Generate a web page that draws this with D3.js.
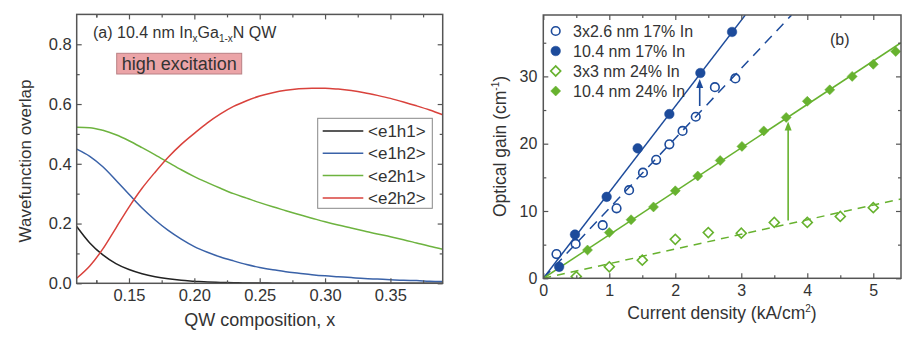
<!DOCTYPE html>
<html><head><meta charset="utf-8">
<script src="https://cdn.jsdelivr.net/npm/d3@7/dist/d3.min.js"></script>
<style>
html,body{margin:0;padding:0;background:#fff;}
svg text{font-family:"Liberation Sans",Arial,sans-serif;fill:#333;}
</style>
</head><body>
<svg id="c" width="918" height="344"></svg>
<script>
// ---------- Panel (a) data ----------
const compX = [0.11,0.12,0.13,0.14,0.15,0.16,0.17,0.18,0.19,0.20,0.21,0.22,0.23,0.24,0.25,0.26,0.27,0.28,0.29,0.30,0.31,0.32,0.33,0.34,0.35,0.36,0.37,0.38,0.39];
const e1h1 = [0.19,0.135,0.095,0.066,0.046,0.032,0.022,0.015,0.010,0.007,0.004,0.003,0.002,0.001,0.001,0.0005,0.0003,0.0002,0.0001,0,0,0,0,0,0,0,0,0,0];
const e1h2 = [0.449,0.425,0.39,0.345,0.298,0.252,0.212,0.177,0.148,0.123,0.104,0.088,0.075,0.063,0.053,0.045,0.039,0.034,0.029,0.025,0.022,0.019,0.016,0.014,0.012,0.010,0.009,0.007,0.006];
const e2h1 = [0.522,0.521,0.512,0.497,0.477,0.454,0.43,0.405,0.38,0.357,0.337,0.318,0.30,0.285,0.27,0.256,0.243,0.23,0.218,0.206,0.195,0.185,0.175,0.165,0.156,0.146,0.135,0.124,0.114];
const e2h2 = [0.017,0.058,0.115,0.185,0.255,0.318,0.372,0.422,0.465,0.502,0.537,0.567,0.592,0.611,0.627,0.638,0.646,0.651,0.653,0.653,0.65,0.645,0.638,0.629,0.619,0.607,0.594,0.58,0.564];
const overlapNames = ["<e1h1>","<e1h2>","<e2h1>","<e2h2>"];
const overlapColors = ["#222222","#3a62a8","#6db33f","#d9423c"];
const xTicksA = [0.15,0.20,0.25,0.30,0.35];
const yTicksA = [0.0,0.2,0.4,0.6,0.8];

// ---------- Panel (b) data ----------
const jOpenC = [0.20,0.49,0.90,1.11,1.30,1.51,1.71,1.91,2.11,2.31,2.60,2.91];
const gOpenC = [3.6,5.1,7.9,10.4,13.1,15.7,17.6,19.9,21.9,24.0,28.4,29.7];
const jFillC = [0.24,0.48,0.96,1.43,1.91,2.38,2.86];
const gFillC = [1.7,6.5,12.1,19.3,24.4,30.5,36.6];
const jOpenD = [0.5,1.0,1.5,2.0,2.5,3.0,3.5,4.0,4.5,5.0];
const gOpenD = [0.25,1.7,2.7,5.8,6.8,6.7,8.3,8.3,9.2,10.5];
const jFillD = [0.67,1.0,1.33,1.67,2.0,2.34,2.68,3.01,3.34,3.68,4.0,4.34,4.68,5.0,5.34];
const gFillD = [4.2,6.8,8.7,10.6,13.0,15.2,17.5,19.6,21.9,23.9,26.3,28.0,30.0,31.8,33.7];
// fit lines [start, end]
const fitFillCx = [0,3.06], fitFillCy = [0,39.1];
const fitOpenCx = [0,3.76], fitOpenCy = [0,39.1];
const fitFillDx = [0,5.42], fitFillDy = [0,35.0];
const fitOpenDx = [0,5.42], fitOpenDy = [0,11.8];
// arrows [x, yFrom, yTo]
const arrowBlue = [2.37,25.6,29.6];
const arrowGreen = [3.71,8.6,23.3];
const legendB = ["3x2.6 nm 17% In","10.4 nm 17% In","3x3 nm 24% In","10.4 nm 24% In"];
const xTicksB = [0,1,2,3,4,5];
const yTicksB = [0,10,20,30];
const blue = "#1d4b9b", green = "#67b22f";

const svg = d3.select("#c");
const frameCol = "#555";

function frameAxes(g, x, y, xMaj, xMin, yMaj, yMin, xFmt, yFmt, fs, xLabOff, yLabOff){
  const [x0,x1] = x.range(), [y0,y1] = y.range(); // y0 bottom
  const tk = (sel, v, maj, orient) => {};
  // bottom + top
  g.append("g").attr("transform",`translate(0,${y0})`)
   .call(d3.axisBottom(x).tickValues(xMaj).tickSize(-5).tickFormat(xFmt).tickPadding(xLabOff));
  g.append("g").attr("transform",`translate(0,${y0})`)
   .call(d3.axisBottom(x).tickValues(xMin).tickSize(-3).tickFormat(""));
  g.append("g").attr("transform",`translate(0,${y1})`)
   .call(d3.axisTop(x).tickValues(xMaj).tickSize(-5).tickFormat(""));
  g.append("g").attr("transform",`translate(0,${y1})`)
   .call(d3.axisTop(x).tickValues(xMin).tickSize(-3).tickFormat(""));
  g.append("g").attr("transform",`translate(${x0},0)`)
   .call(d3.axisLeft(y).tickValues(yMaj).tickSize(-5).tickFormat(yFmt).tickPadding(yLabOff));
  g.append("g").attr("transform",`translate(${x0},0)`)
   .call(d3.axisLeft(y).tickValues(yMin).tickSize(-3).tickFormat(""));
  g.append("g").attr("transform",`translate(${x1},0)`)
   .call(d3.axisRight(y).tickValues(yMaj).tickSize(-5).tickFormat(""));
  g.append("g").attr("transform",`translate(${x1},0)`)
   .call(d3.axisRight(y).tickValues(yMin).tickSize(-3).tickFormat(""));
  g.selectAll(".domain").remove();
  g.selectAll(".tick line").attr("stroke",frameCol).attr("stroke-width",1.2);
  g.selectAll(".tick text").attr("font-size",fs).attr("fill","#333")
   .attr("font-family","Liberation Sans, Arial, sans-serif");
  g.append("rect").attr("x",x0).attr("y",y1).attr("width",x1-x0).attr("height",y0-y1)
   .attr("fill","none").attr("stroke",frameCol).attr("stroke-width",1.5);
}

// ================= Panel (a) =================
const xA = d3.scaleLinear().domain([0.11,0.39]).range([76.7,442.7]);
const yA = d3.scaleLinear().domain([0,0.9]).range([283.3,14.4]);
const gA = svg.append("g");
const seriesA = [e1h1,e1h2,e2h1,e2h2];
const lineA = d3.line().x(d=>xA(d[0])).y(d=>yA(d[1])).curve(d3.curveMonotoneX);
const clipA = gA.append("clipPath").attr("id","clipA").append("rect")
  .attr("x",76.7).attr("y",14.4).attr("width",366).attr("height",269);
seriesA.forEach((s,i)=>{
  gA.append("path").datum(compX.map((c,k)=>[c,s[k]]))
   .attr("d",lineA).attr("fill","none").attr("stroke",overlapColors[i]).attr("stroke-width",1.5)
   .attr("clip-path","url(#clipA)");
});
frameAxes(gA, xA, yA, xTicksA, d3.range(0.125,0.39,0.05).concat([0.125]).map(v=>+v.toFixed(3)),
  yTicksA, [0.1,0.3,0.5,0.7], d3.format(".2f"), d3.format(".1f"), "16.5px", 6, 5);

// title (a)
const tA = gA.append("text").attr("x",93).attr("y",38).attr("font-size","16px");
tA.append("tspan").text("(a) 10.4 nm In");
tA.append("tspan").text("x").attr("font-size","10px").attr("dy",4);
tA.append("tspan").text("Ga").attr("dy",-4);
tA.append("tspan").text("1-x").attr("font-size","10px").attr("dy",4);
tA.append("tspan").text("N QW").attr("dy",-4);
// high excitation box
gA.append("rect").attr("x",116.7).attr("y",53.3).attr("width",125).attr("height",20.7)
  .attr("fill","#eba4a7").attr("stroke","#b98084").attr("stroke-width",1);
gA.append("text").attr("x",179.2).attr("y",70).attr("text-anchor","middle")
  .attr("font-size","18px").text("high excitation");
// legend (a)
gA.append("rect").attr("x",317.7).attr("y",118.3).attr("width",114.6).attr("height",90)
  .attr("fill","#fff").attr("stroke","#888").attr("stroke-width",1);
overlapNames.forEach((n,i)=>{
  const yy = 131 + i*22.3;
  gA.append("line").attr("x1",322.7).attr("x2",363.3).attr("y1",yy).attr("y2",yy)
    .attr("stroke",overlapColors[i]).attr("stroke-width",1.5);
  gA.append("text").attr("x",368).attr("y",yy+6).attr("font-size","17px").text(n);
});
// axis titles
gA.append("text").attr("x",259.7).attr("y",326).attr("text-anchor","middle")
  .attr("font-size","18px").text("QW composition, x");
gA.append("text").attr("transform","translate(31,161) rotate(-90)").attr("text-anchor","middle")
  .attr("font-size","17px").text("Wavefunction overlap");

// ================= Panel (b) =================
const xB = d3.scaleLinear().domain([0,5.42]).range([543.3,901]);
const yB = d3.scaleLinear().domain([0,39.12]).range([278.3,15]);
const gB = svg.append("g");
gB.append("clipPath").attr("id","clipB").append("rect")
  .attr("x",543.3).attr("y",15).attr("width",357.7).attr("height",263.3);
const plot = gB.append("g").attr("clip-path","url(#clipB)");
const ln = d3.line().x(d=>xB(d[0])).y(d=>yB(d[1]));
function fit(xs,ys,col,dash){
  plot.append("path").datum(xs.map((v,i)=>[v,ys[i]])).attr("d",ln)
    .attr("fill","none").attr("stroke",col).attr("stroke-width",1.5)
    .attr("stroke-dasharray",dash||null);
}
fit(fitOpenCx,fitOpenCy,blue,"10,7");
fit(fitFillCx,fitFillCy,blue,null);
fit(fitOpenDx,fitOpenDy,green,"8,6");
fit(fitFillDx,fitFillDy,green,null);

const diamond = d3.symbol().type(d3.symbolSquare).size(50);
function circles(xs,ys,filled){
  plot.selectAll(null).data(xs.map((v,i)=>[v,ys[i]])).enter().append("circle")
    .attr("cx",d=>xB(d[0])).attr("cy",d=>yB(d[1])).attr("r",filled?4.8:4.3)
    .attr("fill",filled?blue:"#fff").attr("fill-opacity",filled?1:0)
    .attr("stroke",blue).attr("stroke-width",filled?0.5:1.6);
}
function diamonds(xs,ys,filled){
  plot.selectAll(null).data(xs.map((v,i)=>[v,ys[i]])).enter().append("path")
    .attr("d",diamond).attr("transform",d=>`translate(${xB(d[0])},${yB(d[1])}) rotate(45)`)
    .attr("fill",filled?green:"#fff").attr("fill-opacity",filled?1:0)
    .attr("stroke",green).attr("stroke-width",filled?0.5:1.6);
}
circles(jOpenC,gOpenC,false);
circles(jFillC,gFillC,true);
diamonds(jOpenD,gOpenD,false);
diamonds(jFillD,gFillD,true);

function arrow(a,col){
  const x = xB(a[0]), yf = yB(a[1]), yt = yB(a[2]);
  plot.append("line").attr("x1",x).attr("x2",x).attr("y1",yf).attr("y2",yt+6)
    .attr("stroke",col).attr("stroke-width",1.6);
  plot.append("path").attr("d",`M${x},${yt} L${x-3.5},${yt+9} L${x+3.5},${yt+9} Z`).attr("fill",col);
}
arrow(arrowBlue,blue);
arrow(arrowGreen,green);

frameAxes(gB, xB, yB, xTicksB, [0.5,1.5,2.5,3.5,4.5], yTicksB, [5,15,25,35],
  d3.format("d"), d3.format("d"), "16px", 6, 6);

// legend (b)
legendB.forEach((n,i)=>{
  const yy = 31 + i*20;
  const lx = 555.7;
  if(i<2){
    gB.append("circle").attr("cx",lx).attr("cy",yy).attr("r",i===0?4.3:4.8)
      .attr("fill",i===0?"#fff":blue).attr("stroke",blue).attr("stroke-width",i===0?1.6:0.5);
  } else {
    gB.append("path").attr("d",diamond).attr("transform",`translate(${lx},${yy}) rotate(45)`)
      .attr("fill",i===2?"#fff":green).attr("stroke",green).attr("stroke-width",i===2?1.6:0.5);
  }
  gB.append("text").attr("x",573).attr("y",yy+5.5).attr("font-size","16px").text(n);
});
gB.append("text").attr("x",830).attr("y",45).attr("font-size","16px").text("(b)");
// axis titles
const tx = gB.append("text").attr("x",722).attr("y",319).attr("text-anchor","middle").attr("font-size","17.5px");
tx.append("tspan").text("Current density (kA/cm");
tx.append("tspan").text("2").attr("font-size","10px").attr("dy",-7);
tx.append("tspan").text(")").attr("dy",7);
const ty = gB.append("text").attr("transform","translate(506,146.5) rotate(-90)").attr("text-anchor","middle").attr("font-size","17.5px");
ty.append("tspan").text("Optical gain (cm");
ty.append("tspan").text("-1").attr("font-size","10px").attr("dy",-7);
ty.append("tspan").text(")").attr("dy",7);
</script>
</body></html>
